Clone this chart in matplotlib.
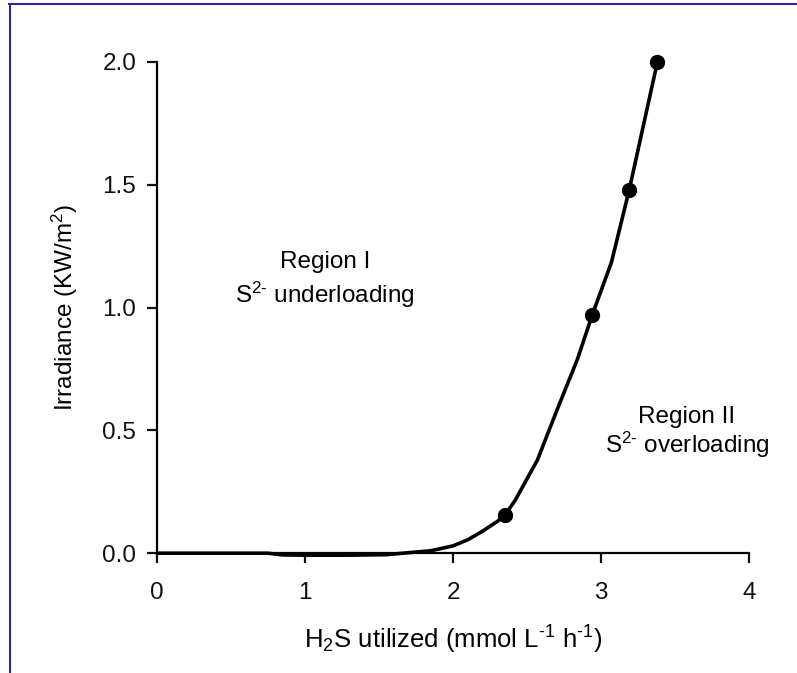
import matplotlib
matplotlib.use("Agg")
import matplotlib.pyplot as plt
from matplotlib.lines import Line2D

plt.rcParams['font.family'] = ['Liberation Sans', 'DejaVu Sans']
plt.rcParams['mathtext.fontset'] = 'custom'
plt.rcParams['mathtext.rm'] = 'Liberation Sans'
plt.rcParams['mathtext.it'] = 'Liberation Sans'

# curve
curve_x = [0, 0.47, 0.75, 0.85, 1.0, 1.3, 1.55, 1.66, 1.85, 2.0, 2.1,
           2.2, 2.3, 2.35, 2.42, 2.57, 2.70, 2.84, 2.94, 3.07, 3.19, 3.38]
curve_y = [0, 0, 0, -0.007, -0.008, -0.008, -0.006, 0, 0.01, 0.03, 0.055,
           0.09, 0.13, 0.155, 0.216, 0.38, 0.58, 0.79, 0.97, 1.185, 1.48, 2.0]

# measured points (dots)
pts_x = [2.35, 2.94, 3.19, 3.38]
pts_y = [0.155, 0.97, 1.48, 2.0]

xticks = [0, 1, 2, 3, 4]
yticks = [0.0, 0.5, 1.0, 1.5, 2.0]

fs = 17.5

fig = plt.figure(figsize=(7.97, 6.73), dpi=100)
ax = fig.add_axes([0.197, 0.178, 0.743, 0.730])

ax.plot(curve_x, curve_y, color='black', lw=2.6, solid_capstyle='round',
        solid_joinstyle='round', clip_on=False, zorder=3)
ax.plot(pts_x, pts_y, 'o', color='black', ms=10, clip_on=False, zorder=4)

ax.set_xlim(0, 4)
ax.set_ylim(0, 2.0)
ax.set_xticks(xticks)
ax.set_yticks(yticks)
ax.set_xticklabels([str(t) for t in xticks])
ax.set_yticklabels(['%.1f' % t for t in yticks])

for s in ['top', 'right']:
    ax.spines[s].set_visible(False)
for s in ['left', 'bottom']:
    ax.spines[s].set_linewidth(1.6)
ax.tick_params(axis='both', direction='out', length=7, width=1.6,
               labelsize=fs, colors='#111111')
ax.tick_params(axis='x', pad=14)
ax.tick_params(axis='y', pad=8)

ax.set_xlabel(r'H$_2$S utilized (mmol L$^{\text{-1}}$ h$^{\text{-1}}$)', fontsize=18.5, labelpad=14)
ax.set_ylabel('Irradiance (KW/m$^2$)', fontsize=fs, labelpad=16)

ax.text(1.135, 1.185, 'Region I', fontsize=fs, ha='center', va='center')
ax.text(1.135, 1.05, r'S$^{\text{2-}}$ underloading', fontsize=fs, ha='center', va='center')
ax.text(3.58, 0.554, 'Region II', fontsize=fs, ha='center', va='center')
ax.text(3.58, 0.44, r'S$^{\text{2-}}$ overloading', fontsize=fs, ha='center', va='center')

# partial blue frame at the top and left edges
fig.add_artist(Line2D([9 / 797, 1.0], [1 - 3.5 / 673, 1 - 3.5 / 673],
                      color='#2a2a9a', lw=1.5))
fig.add_artist(Line2D([9.5 / 797, 9.5 / 797], [0, 1 - 3.5 / 673],
                      color='#2a2a9a', lw=1.5))

fig.savefig('out.png', dpi=100)
